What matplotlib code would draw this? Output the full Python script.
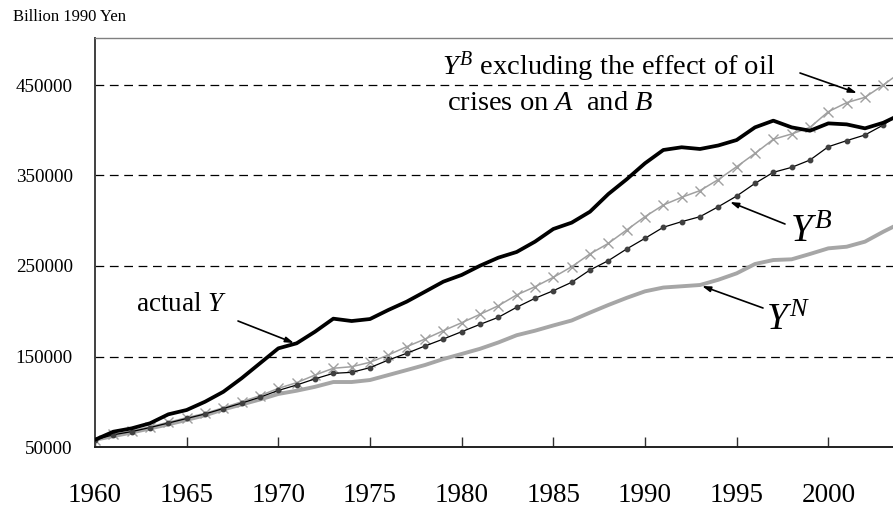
import matplotlib
matplotlib.use("Agg")
import matplotlib.pyplot as plt
import numpy as np

plt.rcParams['font.family'] = ['Liberation Serif', 'DejaVu Serif']
plt.rcParams['mathtext.fontset'] = 'custom'
plt.rcParams['mathtext.rm'] = 'Liberation Serif'
plt.rcParams['mathtext.it'] = 'Liberation Serif:italic'

years = list(range(1960, 2005))

actual_Y = [58000, 66900, 70600, 76200, 86100, 90900, 100000, 111000, 126000, 142500,
            159000, 164600, 177400, 191800, 189200, 191400, 201400, 210600, 221600, 232700,
            240100, 250300, 259200, 265500, 276900, 290900, 297900, 310000, 329500, 345800,
            363500, 378200, 381200, 379300, 383200, 389200, 403200, 410600, 403200, 399500,
            407600, 406500, 402100, 408300, 418000]

YB_excl = [58000, 64000, 67700, 72400, 77300, 82400, 87200, 93400, 100000, 106700,
           114800, 121100, 129500, 137000, 138700, 143600, 151700, 160800, 169300, 178500,
           187300, 196600, 206100, 218000, 227100, 237500, 249200, 263300, 275000, 289800,
           304500, 317400, 325900, 333300, 345500, 359700, 374400, 390000, 395900, 403200,
           420500, 430500, 436400, 450000, 465000]

YB = [58000, 63500, 67000, 71500, 76500, 81500, 86500, 92500, 98500, 105000,
      112500, 118500, 125300, 131400, 132500, 137700, 146100, 153500, 161600, 169300,
      177400, 185500, 193300, 204400, 214300, 222700, 232000, 245600, 255900, 268800,
      280600, 292800, 299000, 304500, 315500, 327300, 341300, 353500, 359000, 367100,
      381800, 388500, 394800, 405800, 420000]

YN = [58000, 62000, 66000, 70500, 75000, 80000, 85000, 91500, 97000, 102500,
      108600, 112200, 116500, 121800, 121800, 124000, 129500, 135000, 140600, 147200,
      152800, 158500, 165500, 173500, 178500, 184300, 189800, 198500, 206900, 214800,
      222000, 226200, 227600, 229000, 234800, 241900, 252200, 256600, 257400, 263300,
      269500, 271300, 276900, 287900, 298000]

yticks = [50000, 150000, 250000, 350000, 450000]
xticks = [1960, 1965, 1970, 1975, 1980, 1985, 1990, 1995, 2000]

fig = plt.figure(figsize=(8.93, 5.11), dpi=100)
ax = fig.add_axes([95/893, 1-447/511, 1-95/893, (447-38)/511])

for yv in yticks[1:]:
    ax.axhline(yv, color='black', lw=0.9, dashes=(7, 4.5), zorder=1)

ax.plot(years, YN, color='#a6a6a6', lw=2.8, zorder=2, solid_joinstyle='round')
ax.plot(years, YB_excl, color='#a0a0a0', lw=1.1, marker='x', ms=7.5, mew=1.0,
        mec='#a0a0a0', zorder=3)
ax.plot(years, YB, color='black', lw=0.9, marker='o', ms=3.2, mfc='#404040',
        mec='#404040', zorder=4)
ax.plot(years, actual_Y, color='black', lw=2.7, zorder=5, solid_joinstyle='round')

ax.set_xlim(1960, 1960 + (893-95)/18.333)
ax.set_ylim(50000, 50000 + (447-38)/0.000905)
ax.set_xticks(xticks)
ax.set_xticklabels([str(x) for x in xticks], fontsize=19.5)
ax.set_yticks(yticks)
ax.set_yticklabels([str(v) for v in yticks], fontsize=13.8)
ax.tick_params(axis='x', direction='in', length=7, width=1, pad=26, color='#303030')
ax.tick_params(axis='y', length=0, pad=16)

ax.spines['right'].set_visible(False)
ax.spines['left'].set_color('#404040')
ax.spines['left'].set_linewidth(1.4)
ax.spines['bottom'].set_color('#202020')
ax.spines['bottom'].set_linewidth(1.4)
ax.spines['top'].set_color('#808080')
ax.spines['top'].set_linewidth(1.0)

def px2data(x, y):
    return 1960 + (x-95)/18.333, 50000 + (447-y)/0.000905

arrow = dict(arrowstyle='-|>,head_length=0.5,head_width=0.16', color='black', lw=1.2,
             shrinkA=0, shrinkB=0)

fig.text(13/893, 1-21/511, 'Billion 1990 Yen', fontsize=12, va='baseline', ha='left')

# Y^B excluding ...
tx, ty = px2data(442, 75)
ax.text(tx, ty, r'$Y^B$ excluding the effect of oil', fontsize=20.5, va='baseline', ha='left')
tx, ty = px2data(447, 110)
ax.text(tx, ty, r'crises on $A$  and $B$', fontsize=20.5, va='baseline', ha='left')
ax.annotate('', xy=px2data(857, 93), xytext=px2data(800, 73), arrowprops=arrow)

# actual Y
tx, ty = px2data(136, 311)
ax.text(tx, ty, r'actual $Y$', fontsize=19.5, va='baseline', ha='left')
ax.annotate('', xy=px2data(294, 343), xytext=px2data(238, 321), arrowprops=arrow)

# Y^B
tx, ty = px2data(790, 242)
ax.text(tx, ty, r'$Y^B$', fontsize=28, va='baseline', ha='left')
ax.annotate('', xy=px2data(730, 202), xytext=px2data(785, 224), arrowprops=arrow)

# Y^N
tx, ty = px2data(766, 330)
ax.text(tx, ty, r'$Y^N$', fontsize=27, va='baseline', ha='left')
ax.annotate('', xy=px2data(702, 286), xytext=px2data(763, 308), arrowprops=arrow)

fig.savefig('out.png', dpi=100)
